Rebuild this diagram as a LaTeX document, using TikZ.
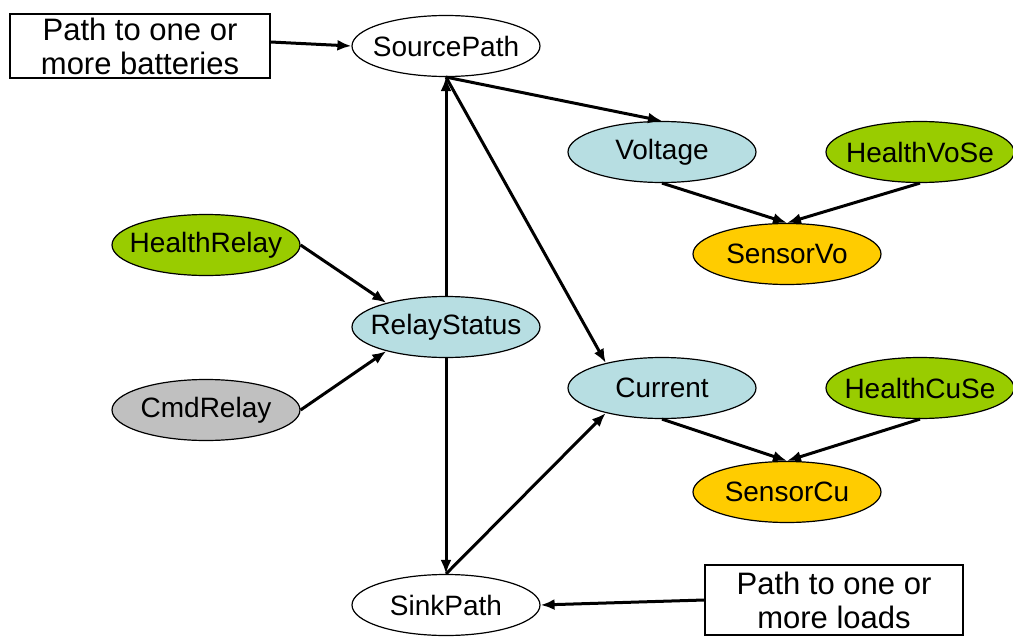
\documentclass[tikz,border=0pt]{standalone}
\usepackage{fontspec}
\setmainfont{Liberation Sans}
\usetikzlibrary{shapes.geometric,arrows.meta}
\definecolor{stateblue}{RGB}{183,222,226}
\definecolor{healthgreen}{RGB}{153,204,0}
\definecolor{sensoramber}{RGB}{255,204,0}
\definecolor{cmdgray}{RGB}{192,192,192}
\tikzset{
  var/.style={ellipse, draw=black, line width=1.2pt, minimum width=188pt,
              minimum height=61pt, inner xsep=-30pt, inner ysep=-12pt,
              font=\fontsize{28}{33}\selectfont},
  notebox/.style={rectangle, draw=black, line width=1.5pt, align=center,
                  inner sep=0pt, font=\fontsize{31}{34}\selectfont},
  link/.style={line width=3pt, -{Latex[length=14pt,width=11pt]}}
}
\begin{document}
\begin{tikzpicture}[x=1pt,y=-1pt]
\useasboundingbox (0,0) rectangle (1013,637);

% path nodes
\node[var, fill=white] (src) at (446,46) {SourcePath};
\node[var, fill=white] (sink) at (446,605) {SinkPath};

% relay
\node[var, fill=healthgreen] (hrel) at (206,245) {HealthRelay};
\node[var, fill=stateblue] (rel) at (446,327) {RelayStatus};
\node[var, fill=cmdgray] (cmd) at (206,410) {CmdRelay};

% voltage branch
\node[var, fill=stateblue] (volt) at (662,152) {Voltage};
\node[var, fill=healthgreen] (hvo) at (920,152) {HealthVoSe};
\node[var, fill=sensoramber] (svo) at (787,254) {SensorVo};

% current branch
\node[var, fill=stateblue] (cur) at (662,388) {Current};
\node[var, fill=healthgreen] (hcu) at (920,388) {HealthCuSe};
\node[var, fill=sensoramber] (scu) at (787,492) {SensorCu};

% annotation boxes
\node[notebox, minimum width=260pt, minimum height=64pt] (bat) at (140,46)
  {Path to one or\\more batteries};
\node[notebox, minimum width=258pt, minimum height=70pt] (load) at (834,600)
  {Path to one or\\more loads};

% connectors
\draw[link] ([yshift=4pt]bat.east) -- (src.west);
\draw[link] (src.south) -- (volt.north);
\draw[link] (src.south) -- (cur.156);
\draw[link] (rel.north) -- (src.south);
\draw[link] (rel.south) -- (sink.north);
\draw[link] (sink.north) -- (cur.204);
\draw[link] (hrel.east) -- (rel.158);
\draw[link] (cmd.east) -- (rel.202);
\draw[link] (volt.south) -- (svo.north);
\draw[link] (hvo.south) -- (svo.north);
\draw[link] (cur.south) -- (scu.north);
\draw[link] (hcu.south) -- (scu.north);
\draw[link] (load.west) -- (sink.east);
\end{tikzpicture}
\end{document}
